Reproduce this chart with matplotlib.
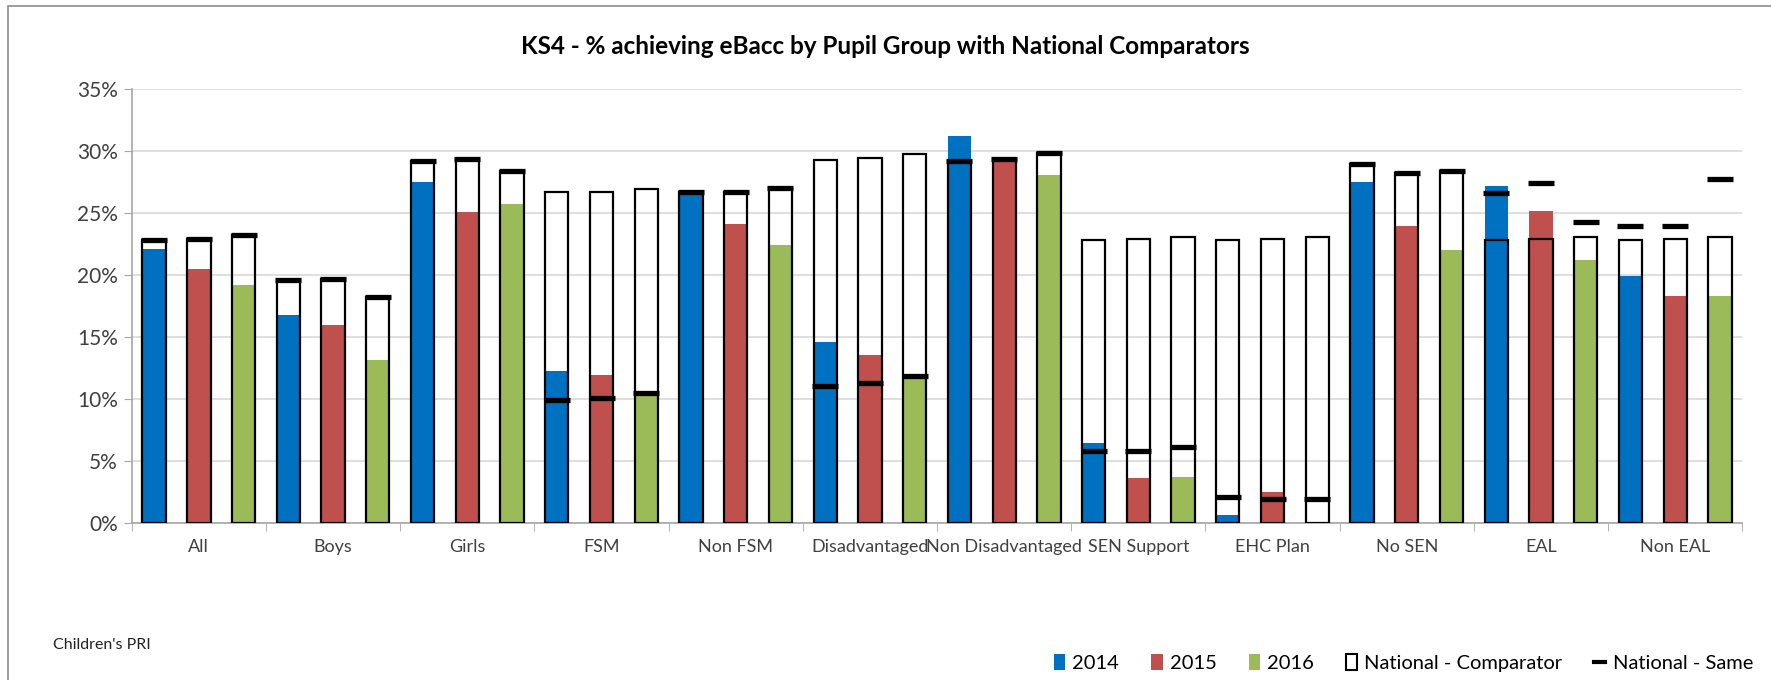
import numpy as np
import matplotlib
matplotlib.use('Agg')
import matplotlib.pyplot as plt
from matplotlib.patches import Patch, Rectangle
from matplotlib.lines import Line2D
from matplotlib.ticker import PercentFormatter

plt.rcParams['font.family'] = ['Lato', 'DejaVu Sans']

groups = ['All', 'Boys', 'Girls', 'FSM', 'Non FSM', 'Disadvantaged', 'Non Disadvantaged',
          'SEN Support', 'EHC Plan', 'No SEN', 'EAL', 'Non EAL']
years = ['2014', '2015', '2016']

v2014 = [22.1, 16.8, 27.5, 12.25, 26.7, 14.6, 31.2, 6.4, 0.6, 27.5, 27.15, 19.9]
v2015 = [20.5, 16.0, 25.1, 11.9, 24.15, 13.55, 29.4, 3.6, 2.5, 23.95, 25.2, 18.3]
v2016 = [19.2, 13.1, 25.7, 10.3, 22.4, 11.8, 28.1, 3.7, 0.0, 22.0, 21.2, 18.3]

comp2014 = [22.8, 19.6, 29.2, 26.7, 26.7, 29.25, 29.2, 22.8, 22.8, 29.0, 22.8, 22.8]
comp2015 = [22.9, 19.7, 29.4, 26.7, 26.7, 29.43, 29.4, 22.9, 22.9, 28.25, 22.9, 22.9]
comp2016 = [23.2, 18.2, 28.4, 26.95, 27.05, 29.75, 29.85, 23.05, 23.05, 28.4, 23.05, 23.05]

same2014 = [22.8, 19.6, 29.2, 9.9, 26.7, 11.07, 29.2, 5.8, 2.1, 29.0, 26.65, 23.95]
same2015 = [22.9, 19.7, 29.4, 10.1, 26.7, 11.3, 29.4, 5.8, 1.9, 28.25, 27.4, 23.95]
same2016 = [23.2, 18.2, 28.4, 10.45, 27.05, 11.85, 29.85, 6.1, 1.9, 28.4, 24.25, 27.75]

colors = ['#0070C0', '#C0504D', '#9BBB59']
values = [v2014, v2015, v2016]
comps = [comp2014, comp2015, comp2016]
sames = [same2014, same2015, same2016]

fig = plt.figure(figsize=(17.71, 6.8), dpi=100)
ax = fig.add_axes([0.0744, 0.2313, 0.9094, 0.6374])

w = 0.52
base = np.arange(len(groups)) * 3
for k in range(3):
    x = base + k
    ax.bar(x, values[k], width=w, color=colors[k], zorder=2)
    ax.bar(x, comps[k], width=w, facecolor='none', edgecolor='black', linewidth=1.6, zorder=3)
    ax.plot(x, sames[k], linestyle='none', marker='_', markersize=19, mew=3.8,
            color='black', zorder=4)

ax.set_xlim(-0.5, len(groups) * 3 - 0.5)
ax.set_ylim(0, 35)
ax.set_yticks(np.arange(0, 36, 5))
ax.yaxis.set_major_formatter(PercentFormatter(decimals=0))
ax.set_xticks(base + 1)
ax.set_xticklabels(groups)
ax.set_xticks(np.arange(len(groups) + 1) * 3 - 0.5, minor=True)
ax.tick_params(axis='x', which='major', length=0, pad=12, labelsize=13, labelcolor='#404040')
ax.tick_params(axis='x', which='minor', length=6, color='#a6a6a6')
ax.tick_params(axis='y', length=6, color='#a6a6a6', labelsize=15, labelcolor='#404040', pad=4)
ax.grid(axis='y', color='#d9d9d9', linewidth=1.2, zorder=0)
ax.set_axisbelow(True)
for s in ['top', 'right']:
    ax.spines[s].set_visible(False)
for s in ['left', 'bottom']:
    ax.spines[s].set_color('#a6a6a6')
    ax.spines[s].set_linewidth(1.2)

fig.suptitle('KS4 - % achieving eBacc by Pupil Group with National Comparators',
             x=0.5, y=0.948, fontsize=17.5, fontweight='bold')

fig.text(0.03, 0.045, "Children's PRI", fontsize=11.5, color='#222222')

handles = [Patch(facecolor=c) for c in colors]
handles.append(Patch(facecolor='white', edgecolor='black', linewidth=1.5))
handles.append(Line2D([], [], color='black', linewidth=3))
labels = years + ['National - Comparator', 'National - Same']
fig.legend(handles, labels, loc='lower right', bbox_to_anchor=(1.0, -0.015), ncol=5,
           frameon=False, fontsize=14.5, handlelength=0.55, handleheight=0.8,
           columnspacing=1.6, handletextpad=0.35)

fig.patches.append(Rectangle((0.0045, -0.1), 1.2, 1.091, transform=fig.transFigure,
                             fill=False, edgecolor='#8c8c8c', linewidth=1.2))

fig.savefig('out.png')
